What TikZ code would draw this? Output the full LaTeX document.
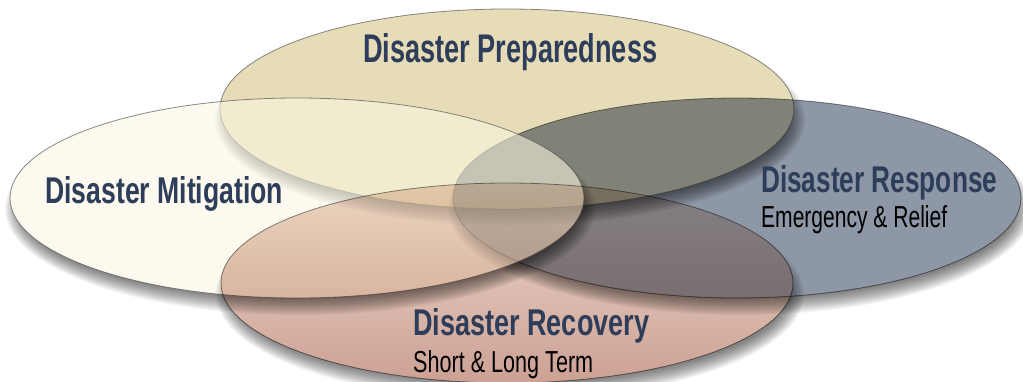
\documentclass[tikz,border=0pt]{standalone}
\usepackage{fontspec}
\usepackage{graphicx}
\setmainfont{Liberation Sans}
\definecolor{prepC}{HTML}{E6DDB8}
\definecolor{mitC}{HTML}{FAF6E2}
\definecolor{respC}{HTML}{8E97A6}
\definecolor{recTop}{HTML}{EFDBCE}
\definecolor{recMid}{HTML}{D3AB9E}
\definecolor{recBot}{HTML}{CCA194}
\definecolor{titleC}{HTML}{2E3D59}
\definecolor{edgeC}{HTML}{4A4A4A}
\tikzset{
  even odd clip/.code={\pgfseteorule},
  ellborder/.style={draw=edgeC, draw opacity=0.65, line width=0.8pt},
  titletext/.style={anchor=base west, inner sep=0pt, text=titleC, font=\bfseries},
  subtext/.style={anchor=base west, inner sep=0pt, text=black},
}
\newcommand\ellshadow[4]{%
  \begin{scope}
    \clip[even odd clip] (-30,-30) rectangle (1060,420) (#1,#2) ellipse [x radius=#3pt, y radius=#4pt];
    \foreach \k in {0,...,11}{%
      \pgfmathsetmacro\srx{#3+8-1.5*\k}%
      \pgfmathsetmacro\sry{#4+6-1.5*\k}%
      \fill[black, fill opacity=0.05] ({#1+3},{#2+11}) ellipse [x radius=\srx pt, y radius=\sry pt];
    }
  \end{scope}}
\begin{document}
\begin{tikzpicture}[x=1pt,y=-1pt]
  \fill[white] (0,0) rectangle (1023,381);
  \useasboundingbox (0,0) rectangle (1023,381);
  % Preparedness
  \ellshadow{507}{109}{287}{100}
  \fill[prepC] (507,109) ellipse [x radius=287pt, y radius=100pt];
  \draw[ellborder] (507,109) ellipse [x radius=287pt, y radius=100pt];
  % Response
  \ellshadow{737}{198}{284}{100}
  \begin{scope}[blend mode=multiply]
    \fill[respC] (737,198) ellipse [x radius=284pt, y radius=100pt];
    \draw[ellborder] (737,198) ellipse [x radius=284pt, y radius=100pt];
  \end{scope}
  % Mitigation
  \ellshadow{297}{198}{287}{100}
  \fill[mitC, fill opacity=0.58] (297,198) ellipse [x radius=287pt, y radius=100pt];
  \draw[ellborder] (297,198) ellipse [x radius=287pt, y radius=100pt];
  % Recovery
  \ellshadow{507}{283}{286}{100}
  \begin{scope}[blend mode=multiply]
    \shade[top color=recTop, middle color=recMid, bottom color=recBot] (507,283) ellipse [x radius=286pt, y radius=100pt];
    \draw[ellborder] (507,283) ellipse [x radius=286pt, y radius=100pt];
  \end{scope}
  % texts
  \node[titletext] (prep) at (363,62) {\resizebox{294pt}{29pt}{Disaster Preparedness}};
  \node[titletext] (mit) at (45,203) {\resizebox{238pt}{27pt}{Disaster Mitigation}};
  \node[titletext] (resp) at (761,192) {\resizebox{236pt}{27pt}{Disaster Response}};
  \node[subtext] (respsub) at (761,227) {\resizebox{186pt}{22pt}{Emergency \& Relief}};
  \node[titletext] (rec) at (413,335) {\resizebox{236pt}{27pt}{Disaster Recovery}};
  \node[subtext] (recsub) at (413,372) {\resizebox{180pt}{22pt}{Short \& Long Term}};
\end{tikzpicture}
\end{document}
